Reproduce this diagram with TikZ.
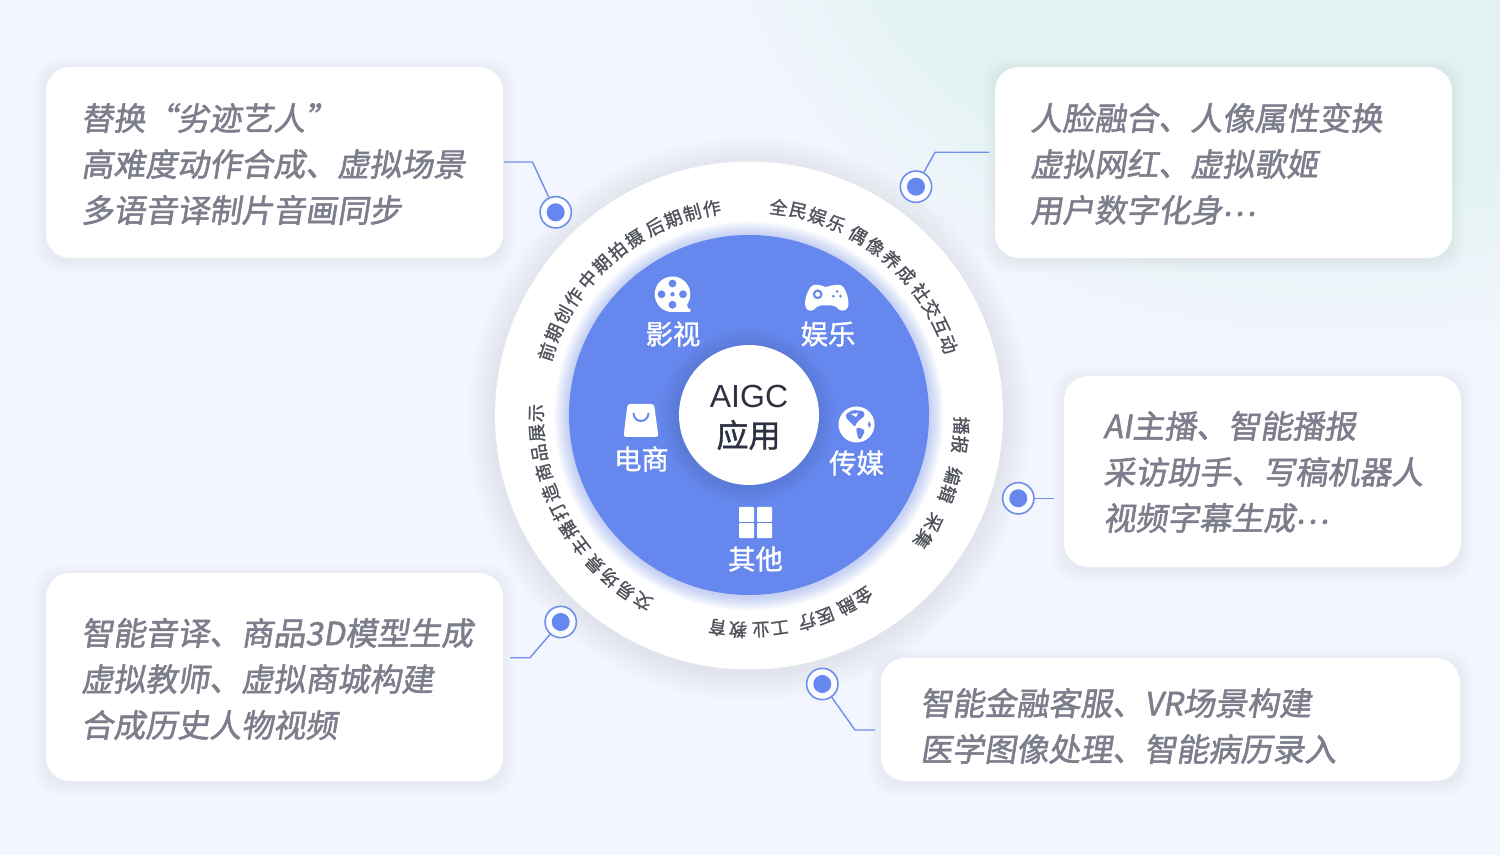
\documentclass[tikz,border=0pt]{standalone}
\usepackage{fontspec}
\setmainfont{Noto Sans CJK SC}
\newfontfamily\boxfont[FakeSlant=0.16,FakeBold=1.6]{Noto Sans CJK SC}
\newfontfamily\arcfont[FakeBold=1.2]{Noto Sans CJK SC}
\newfontfamily\latfont{Liberation Sans}
\definecolor{bgc}{HTML}{F3F6FE}
\definecolor{bggreen}{HTML}{E2F2F2}
\definecolor{blue1}{HTML}{6687EE}
\definecolor{ringc}{HTML}{6F8EEA}
\definecolor{shadowc}{HTML}{8FA3DC}
\definecolor{boxtxt}{HTML}{7C7E8C}
\definecolor{arctxt}{HTML}{50535C}
\definecolor{darkt}{HTML}{2E3142}
\newcommand{\middots}{\raisebox{0.2em}{⋯}}
\tikzset{
  x=0.75pt,y=-0.75pt,
  boxnode/.style={draw=none,fill=white,rounded corners=18pt,inner sep=0pt},
  boxtext/.style={anchor=west,align=left,inner sep=0pt,text=boxtxt,font=\boxfont\fontsize{24}{34.5}\selectfont},
  marker/.style={circle,draw=ringc,line width=1.2pt,fill=white!70!bgc,minimum size=23.5pt,inner sep=0pt},
  markerdot/.style={circle,fill=blue1,minimum size=13.5pt,inner sep=0pt},
  leader/.style={draw=ringc,line width=1.05pt},
  arcchar/.style={inner sep=0pt,text=arctxt,font=\arcfont\fontsize{13.5}{15}\selectfont},
  seglabel/.style={inner sep=0pt,text=white,font=\arcfont\fontsize{20.5}{22}\selectfont},
  icon/.style={fill=white},
  iconhole/.style={fill=blue1},
}
\newcommand{\softbox}[5]{%
  \foreach \i in {1,...,12}{\fill[shadowc,opacity=0.006,rounded corners=18pt] ({#2-\i},{#3-\i+3}) rectangle ({#4+\i},{#5+\i+3});}
  \node[boxnode,minimum width={(#4-#2)*0.75pt},minimum height={(#5-#3)*0.75pt}] (#1) at ({(#2+#4)/2},{(#3+#5)/2}) {};
}
\newcommand{\arcgroup}[4]{%
  \foreach \c [count=\n from 0] in {#4}{%
    \pgfmathsetmacro{\a}{#2+\n*#3}
    \node[arcchar,rotate=\a-90] (#1-\n) at ({749+212.5*cos(\a)},{417.5-212.5*sin(\a)}) {\c};
  }%
}
\begin{document}
\begin{tikzpicture}
\useasboundingbox (0,0) rectangle (1500,855);
\fill[bgc] (0,0) rectangle (1500,855);
\begin{scope}
\clip (0,0) rectangle (1500,855);
\foreach \i in {0,...,40}{
  \pgfmathsetmacro{\mix}{100*\i/40}
  \pgfmathsetmacro{\rx}{640-\i*4.5}
  \pgfmathsetmacro{\ry}{480-\i*4.5}
  \fill[bggreen!\mix!bgc] (1340,-120) ellipse [x radius=\rx, y radius=\ry];
}
\end{scope}

% boxes
\softbox{b1}{46}{67}{503}{258}
\softbox{b2}{995}{67}{1452}{258}
\softbox{b3}{1064}{376}{1461}{567}
\softbox{b4}{46}{573}{503}{781}
\softbox{b5}{881}{658}{1460}{781}

\node[boxtext] (t1) at (81,164) {替换“劣迹艺人”\\高难度动作合成、虚拟场景\\多语音译制片音画同步};
\node[boxtext] (t2) at (1030,164) {人脸融合、人像属性变换\\虚拟网红、虚拟歌姬\\用户数字化身\middots};
\node[boxtext] (t3) at (1103,472) {AI主播、智能播报\\采访助手、写稿机器人\\视频字幕生成\middots};
\node[boxtext] (t4) at (81,679) {智能音译、商品3D模型生成\\虚拟教师、虚拟商城构建\\合成历史人物视频};
\node[boxtext] (t5) at (920,726) {智能金融客服、VR场景构建\\医学图像处理、智能病历录入};

% main disc
\foreach \i in {1,...,18}{\fill[shadowc,opacity=0.007] (749,419) circle ({254+\i*1.6});}
\node[circle,fill=white,minimum size=381pt,inner sep=0pt] (outer) at (749,415.5) {};
\foreach \i in {1,...,12}{\fill[blue1,opacity=0.035] (749,416) circle ({180+\i*1.2});}
\node[circle,fill=blue1,minimum size=270pt,inner sep=0pt] (disc) at (749,415) {};
\foreach \i in {1,...,12}{\fill[black!30!blue1,opacity=0.022] (748,416) circle ({70+\i*1.5});}
\node[circle,fill=white,minimum size=105pt,inner sep=0pt] (core) at (749,415) {};
\node[inner sep=0pt,text=darkt,font=\latfont\fontsize{24}{26}\selectfont] (aigc) at (749,396) {AIGC};
\node[inner sep=0pt,text=darkt,font=\arcfont\fontsize{24}{26}\selectfont] (app) at (748.5,435) {应用};

% segment labels
\node[seglabel] (s1) at (673,334) {影视};
\node[seglabel] (s2) at (828,334) {娱乐};
\node[seglabel] (s3) at (856.5,463) {传媒};
\node[seglabel] (s4) at (755.5,559) {其他};
\node[seglabel] (s5) at (641.5,459) {电商};

% film reel icon
\fill[icon] (672.5,294.3) circle (17.8);
\fill[icon,rounded corners=0.6pt] (673,308) -- (684,306) -- (687,304) -- (688,308.5) -- (690.5,309) -- (690.5,312) -- (673,312) -- cycle;
\foreach \p in {(672.5,283.5),(672.5,304.8),(661.5,294.3),(683,294.3)}{\fill[iconhole] \p circle (3.9);}
\fill[iconhole] (672.5,294.3) circle (2.2);

% game pad icon
\fill[icon] (814,285) .. controls (820,284.5) and (823,286) .. (826,287) .. controls (830,286) and (833,284.5) .. (840,285)
  .. controls (845,286) and (848.5,297) .. (848.5,304) .. controls (848.5,310) and (843,312.5) .. (839,309.5)
  .. controls (837,307.5) and (835,305.5) .. (832,305.5) -- (821,305.5) .. controls (818,305.5) and (816,307.5) .. (814,309.5)
  .. controls (810,312.5) and (805,310) .. (805,304) .. controls (805,297) and (809,286) .. (814,285) -- cycle;
\fill[iconhole] (817.7,294.3) circle (4.9);
\fill[icon] (817.7,294.3) circle (2.5);
\foreach \p in {(837,291.5),(833.4,296.2),(840.5,296.2)}{\fill[iconhole] \p circle (1.5);}

% bag icon
\fill[icon,rounded corners=2pt] (627.5,404) -- (654,404) -- (658.5,437) -- (623.5,437) -- cycle;
\draw[blue1,line width=1.5pt,line cap=round] (633.5,413.5) .. controls (634.5,423.5) and (647.5,423.5) .. (648.5,413.5);

% globe icon
\fill[icon] (856.5,424.5) circle (18);
\fill[iconhole,rounded corners=1pt] (846,414) -- (853,410) -- (863,411) -- (865,415) -- (861,419) -- (857,422) -- (855,427) -- (851,423) -- (846,418) -- cycle;
\fill[icon] (851,414) -- (858,413) -- (856,417) -- cycle;
\fill[iconhole,rounded corners=1pt] (856,428) -- (861,428) -- (865,431) -- (863,435) -- (860,440) -- (858,438) -- cycle;
\fill[iconhole] (869,421) -- (871,425) -- (869,428) -- (868,424) -- cycle;

% grid icon
\foreach \x/\y in {739/507,757/507,739/523,757/523}{\fill[icon,rounded corners=0.7pt] (\x,\y) rectangle ({\x+15},{\y+15});}

% curved labels
\arcgroup{a1}{162}{-5.5}{前,期,创,作}
\arcgroup{a2}{139.4}{-5.6}{中,期,拍,摄}
\arcgroup{a3}{116.3}{-5.4}{后,期,制,作}
\arcgroup{a4}{82}{-5.4}{全,民,娱,乐}
\arcgroup{a5}{59.1}{-5.6}{偶,像,养,成}
\arcgroup{a6}{36}{-5.3}{社,交,互,动}
\arcgroup{a7}{-2.2}{-5.1}{播,报}
\arcgroup{a8}{-16}{-5.1}{编,辑}
\arcgroup{a9}{-29.6}{-5.4}{采,集}
\arcgroup{a10}{-57.4}{-5.2}{金,融}
\arcgroup{a11}{-69}{-5.2}{医,疗}
\arcgroup{a12}{-81.6}{-5.2}{工,业}
\arcgroup{a13}{-93}{-5.5}{教,育}
\arcgroup{a14}{-120}{-5.5}{交,易,场,景}
\arcgroup{a15}{-142.6}{-5.5}{主,播,打,造}
\arcgroup{a16}{-165}{-5.4}{商,品,展,示}

% markers and leaders
\node[marker] (d1) at (555.7,212.3) {};
\node[marker] (d2) at (916,186.7) {};
\node[marker] (d3) at (1018.3,498.3) {};
\node[marker] (d4) at (560.7,622) {};
\node[marker] (d5) at (822.3,684) {};
\node[markerdot] (d1i) at (d1) {};
\node[markerdot] (d2i) at (d2) {};
\node[markerdot] (d3i) at (d3) {};
\node[markerdot] (d4i) at (d4) {};
\node[markerdot] (d5i) at (d5) {};
\coordinate (c1) at (504,162);
\coordinate (w1) at (532.5,162);
\coordinate (c2) at (989,152.3);
\coordinate (w2) at (935,152.3);
\coordinate (c3) at (1054,498.3);
\coordinate (c4) at (510,657.7);
\coordinate (w4) at (530,657.7);
\coordinate (c5) at (875,730);
\coordinate (w5) at (855,730);
\draw[leader] (c1) -- (w1) -- (d1);
\draw[leader] (c2) -- (w2) -- (d2);
\draw[leader] (c3) -- (d3);
\draw[leader] (c4) -- (w4) -- (d4);
\draw[leader] (c5) -- (w5) -- (d5);
\end{tikzpicture}
\end{document}
